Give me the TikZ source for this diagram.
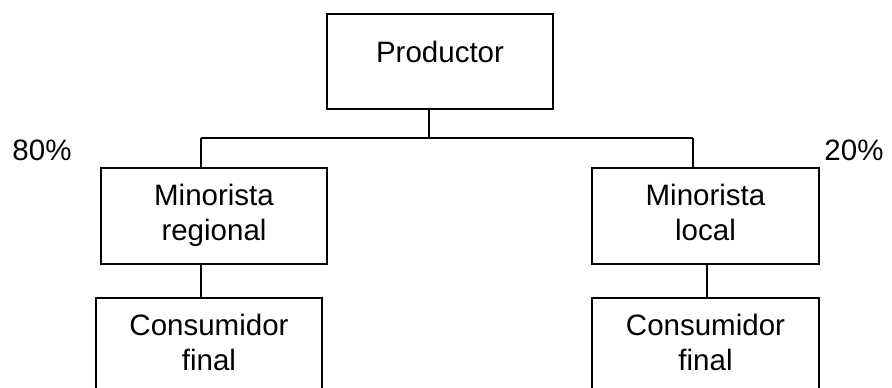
\documentclass[tikz,border=0pt]{standalone}
\usepackage{fontspec}
\setmainfont{Liberation Sans}
\usetikzlibrary{positioning}

\begin{document}
\begin{tikzpicture}[
    x=1pt, y=-1pt,
    line width=2pt,
    box/.style={draw, line width=2pt, minimum width=226pt, minimum height=96pt, align=center, inner sep=0pt, text depth=7pt, font=\fontsize{29.5}{35}\selectfont},
    pct/.style={inner sep=0pt, font=\fontsize{29.5}{35}\selectfont}
]
\clip (0,0) rectangle (892,388);

% Nodes
\node[box, minimum height=95pt, text depth=20pt] (prod) at (440,61.5) {Productor};
\node[box] (minreg) at (214,216) {Minorista\\regional};
\node[box, minimum width=227pt] (minloc) at (705.5,216) {Minorista\\local};
\node[box] (conreg) at (209,346) {Consumidor\\final};
\node[box, minimum width=227pt] (conloc) at (705.5,346) {Consumidor\\final};

% Shares
\node[pct] (pizq) at (42,150) {80\%};
\node[pct] (pder) at (854,150) {20\%};

% Connectors
\coordinate (busL) at (201,138);
\coordinate (busM) at (429,138);
\coordinate (busR) at (693,138);
\draw (prod.south -| busM) -- (busM);
\draw (busL) -- (busR);
\draw (busL) -- (busL |- minreg.north);
\draw (busR) -- (busR |- minloc.north);
\draw (minreg.south -| busL) -- (conreg.north -| busL);
\draw ([xshift=1.5pt]minloc.south) -- ([xshift=1.5pt]conloc.north);

\end{tikzpicture}
\end{document}
